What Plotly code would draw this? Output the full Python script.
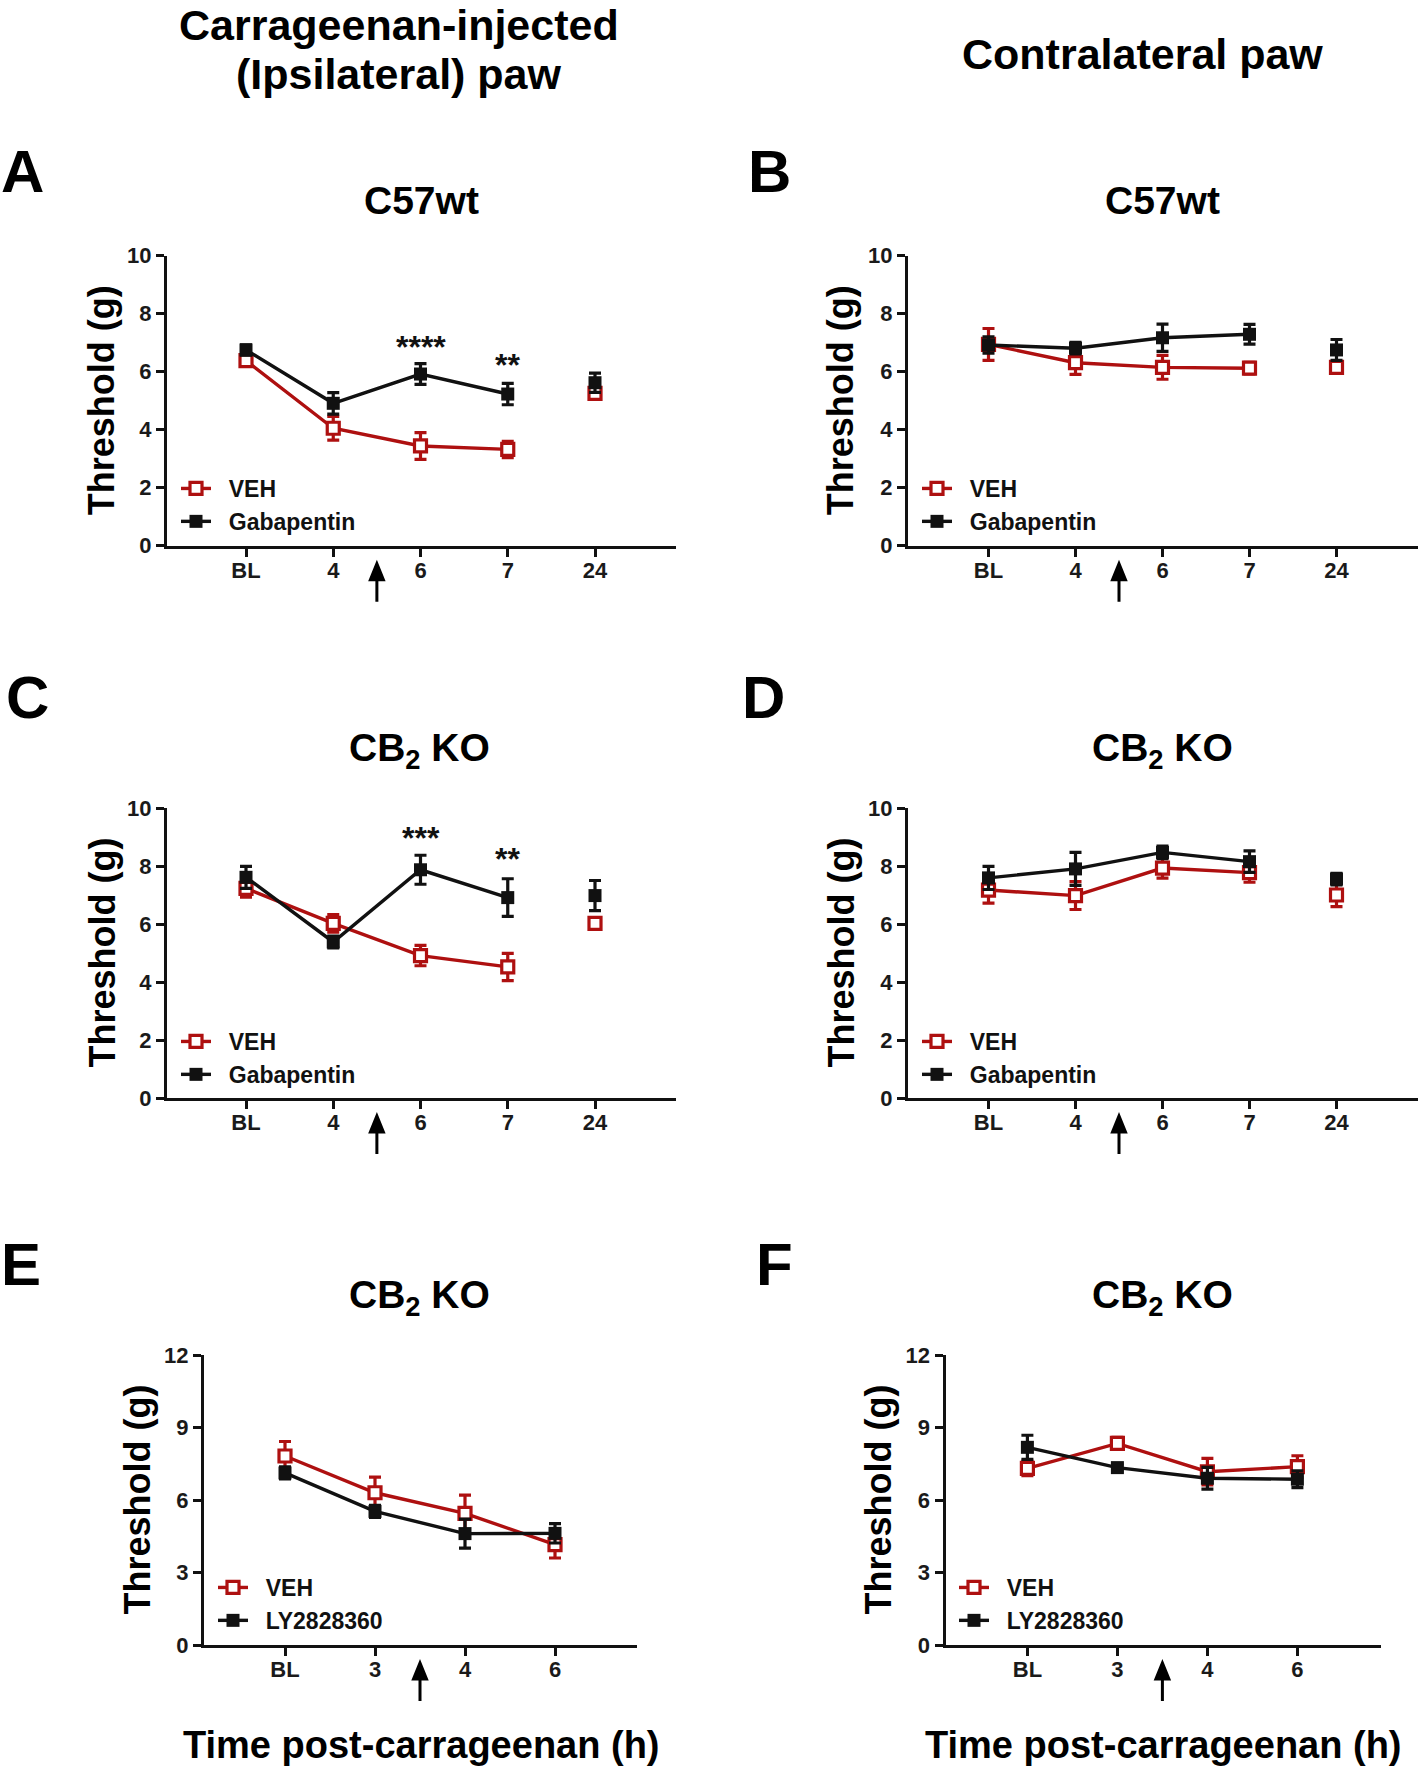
import plotly.graph_objects as go

W, H = 1418, 1767

# ---------------- data ----------------
gaba_times = ["BL", "4", "6", "7", "24"]
ly_times = ["BL", "3", "4", "6"]

# Panel A: C57wt, ipsilateral
A_veh = [6.38, 4.05, 3.44, 3.32, 5.25]
A_veh_err = [0.15, 0.41, 0.46, 0.28, 0.20]
A_gaba = [6.75, 4.91, 5.92, 5.23, 5.62]
A_gaba_err = [0.18, 0.37, 0.36, 0.37, 0.33]

# Panel B: C57wt, contralateral
B_veh = [6.94, 6.31, 6.15, 6.12, 6.15]
B_veh_err = [0.55, 0.40, 0.41, 0.20, 0.20]
B_gaba = [6.92, 6.81, 7.17, 7.29, 6.75]
B_gaba_err = [0.28, 0.20, 0.47, 0.34, 0.36]

# Panel C: CB2 KO, ipsilateral
C_veh = [7.23, 6.02, 4.91, 4.52, 6.02]
C_veh_err = [0.30, 0.30, 0.35, 0.47, 0.20]
C_gaba = [7.61, 5.38, 7.87, 6.91, 6.98]
C_gaba_err = [0.38, 0.20, 0.50, 0.65, 0.52]

# Panel D: CB2 KO, contralateral
D_veh = [7.17, 6.98, 7.93, 7.77, 7.00]
D_veh_err = [0.45, 0.48, 0.35, 0.33, 0.40]
D_gaba = [7.59, 7.90, 8.47, 8.15, 7.55]
D_gaba_err = [0.40, 0.57, 0.22, 0.37, 0.20]

# Panel E: CB2 KO, ipsilateral, LY2828360
E_veh = [7.82, 6.30, 5.45, 4.15]
E_veh_err = [0.60, 0.65, 0.75, 0.55]
E_ly = [7.12, 5.53, 4.61, 4.62]
E_ly_err = [0.25, 0.25, 0.60, 0.40]

# Panel F: CB2 KO, contralateral, LY2828360
F_veh = [7.31, 8.34, 7.17, 7.38]
F_veh_err = [0.30, 0.25, 0.55, 0.45]
F_ly = [8.18, 7.34, 6.90, 6.86]
F_ly_err = [0.50, 0.15, 0.45, 0.35]

A_stars = ["****", "**"]
A_star_pos = [2, 3]
A_star_y = [7.09, 6.48]
C_stars = ["***", "**"]
C_star_pos = [2, 3]
C_star_y = [9.20, 8.47]

ylabel = "Threshold (g)"
xlabel = "Time post-carrageenan (h)"
header_left = ["Carrageenan-injected", "(Ipsilateral) paw"]
header_right = "Contralateral paw"

# ---------------- styling ----------------
RED = "#AE1010"
BLACK = "#111111"
FONT = "Liberation Sans, Arial, Helvetica, sans-serif"
NBSP = "\u00a0\u00a0"


def fx(p):
    return min(max(p / W, 0.0), 1.0)


def fy(p):
    return min(max(1 - p / H, 0.0), 1.0)


panels = [
    dict(letter="A", title="C57wt", times=gaba_times, veh=A_veh, veh_err=A_veh_err,
         drug=A_gaba, drug_err=A_gaba_err, drug_name="Gabapentin", n_conn=4,
         x0=167, x1=676, tick0=246, dtick=87.25, ytop=255.7, ybot=545.7,
         ymax=10, ydt=2, letter_xy=(22, 171), title_xy=(421, 201),
         ytitle_x=103, leg_xy=(176, 467), stars=(A_stars, A_star_pos, A_star_y)),
    dict(letter="B", title="C57wt", times=gaba_times, veh=B_veh, veh_err=B_veh_err,
         drug=B_gaba, drug_err=B_gaba_err, drug_name="Gabapentin", n_conn=4,
         x0=908, x1=1418, tick0=988.5, dtick=87.0, ytop=255.7, ybot=545.7,
         ymax=10, ydt=2, letter_xy=(769, 171), title_xy=(1162, 201),
         ytitle_x=842, leg_xy=(917, 467), stars=None),
    dict(letter="C", title="CB<sub>2</sub> KO", times=gaba_times, veh=C_veh, veh_err=C_veh_err,
         drug=C_gaba, drug_err=C_gaba_err, drug_name="Gabapentin", n_conn=4,
         x0=167, x1=676, tick0=246, dtick=87.25, ytop=808, ybot=1098,
         ymax=10, ydt=2, letter_xy=(27, 698), title_xy=(419, 750),
         ytitle_x=103, leg_xy=(176, 1020), stars=(C_stars, C_star_pos, C_star_y)),
    dict(letter="D", title="CB<sub>2</sub> KO", times=gaba_times, veh=D_veh, veh_err=D_veh_err,
         drug=D_gaba, drug_err=D_gaba_err, drug_name="Gabapentin", n_conn=4,
         x0=908, x1=1418, tick0=988.5, dtick=87.0, ytop=808, ybot=1098,
         ymax=10, ydt=2, letter_xy=(763, 698), title_xy=(1162, 750),
         ytitle_x=842, leg_xy=(917, 1020), stars=None),
    dict(letter="E", title="CB<sub>2</sub> KO", times=ly_times, veh=E_veh, veh_err=E_veh_err,
         drug=E_ly, drug_err=E_ly_err, drug_name="LY2828360", n_conn=4,
         x0=204, x1=637, tick0=285, dtick=90.0, ytop=1355, ybot=1645,
         ymax=12, ydt=3, letter_xy=(21, 1264), title_xy=(419, 1297),
         ytitle_x=138, leg_xy=(213, 1566), stars=None),
    dict(letter="F", title="CB<sub>2</sub> KO", times=ly_times, veh=F_veh, veh_err=F_veh_err,
         drug=F_ly, drug_err=F_ly_err, drug_name="LY2828360", n_conn=4,
         x0=945.5, x1=1381.4, tick0=1027.4, dtick=90.0, ytop=1355, ybot=1645,
         ymax=12, ydt=3, letter_xy=(774, 1264), title_xy=(1162, 1297),
         ytitle_x=879, leg_xy=(954, 1566), stars=None),
]

fig = go.Figure()
annotations = []
shapes = []
layout_updates = {}

for i, p in enumerate(panels, start=1):
    xa = "x" if i == 1 else f"x{i}"
    ya = "y" if i == 1 else f"y{i}"
    xkey = "xaxis" if i == 1 else f"xaxis{i}"
    ykey = "yaxis" if i == 1 else f"yaxis{i}"
    lkey = "legend" if i == 1 else f"legend{i}"
    n = len(p["times"])
    idx = list(range(n))
    nc = p["n_conn"]

    series = [
        ("VEH", p["veh"], p["veh_err"], RED, "white", 3.2, 12),
        (p["drug_name"], p["drug"], p["drug_err"], BLACK, BLACK, 0, 13),
    ]
    for name, vals, errs, col, fill, lw, ms in series:
        mk = dict(symbol="square", size=ms, color=fill, line=dict(color=col, width=lw))
        fig.add_trace(go.Scatter(
            x=idx[:nc], y=vals[:nc], xaxis=xa, yaxis=ya, mode="lines+markers",
            name=NBSP + name, legend=lkey, showlegend=True,
            line=dict(color=col, width=3.4), marker=mk, cliponaxis=False,
            error_y=dict(type="data", array=errs[:nc], color=col, thickness=3.2, width=6),
        ))
        if n > nc:
            fig.add_trace(go.Scatter(
                x=idx[nc:], y=vals[nc:], xaxis=xa, yaxis=ya, mode="markers",
                name=name, legend=lkey, showlegend=False, marker=mk, cliponaxis=False,
                error_y=dict(type="data", array=errs[nc:], color=col, thickness=3.2, width=6),
            ))

    # axes
    xr0 = (p["x0"] - p["tick0"]) / p["dtick"]
    xr1 = (p["x1"] - p["tick0"]) / p["dtick"]
    tickfont = dict(family=FONT, size=22, color="#1a1a1a", weight="bold")
    layout_updates[xkey] = dict(
        domain=[fx(p["x0"]), fx(p["x1"])], anchor=ya, range=[xr0, xr1],
        tickvals=idx, ticktext=p["times"], showgrid=False, zeroline=False,
        showline=True, linecolor=BLACK, linewidth=3, ticks="outside", ticklen=8,
        tickwidth=3, tickcolor=BLACK, tickfont=tickfont, fixedrange=True,
        automargin=False, ticklabelstandoff=-5,
    )
    yt = list(range(0, p["ymax"] + 1, p["ydt"]))
    layout_updates[ykey] = dict(
        domain=[fy(p["ybot"]), fy(p["ytop"])], anchor=xa, range=[0, p["ymax"]],
        tickvals=yt, showgrid=False, zeroline=False,
        showline=True, linecolor=BLACK, linewidth=3, ticks="outside", ticklen=8,
        tickwidth=3, tickcolor=BLACK, tickfont=tickfont, fixedrange=True,
        automargin=False,
    )
    layout_updates[lkey] = dict(
        x=fx(p["leg_xy"][0]), y=fy(p["leg_xy"][1]), xanchor="left", yanchor="top",
        bgcolor="rgba(0,0,0,0)", borderwidth=0, itemwidth=30,
        font=dict(family=FONT, size=23, color="#111111", weight="bold"),
        tracegroupgap=0,
    )

    # panel letter
    annotations.append(dict(
        text=p["letter"], x=fx(p["letter_xy"][0]), y=fy(p["letter_xy"][1]),
        xref="paper", yref="paper", showarrow=False, xanchor="center", yanchor="middle",
        font=dict(family=FONT, size=60, color="black", weight="bold"),
    ))
    # panel title
    annotations.append(dict(
        text=p["title"], x=fx(p["title_xy"][0]), y=fy(p["title_xy"][1]),
        xref="paper", yref="paper", showarrow=False, xanchor="center", yanchor="middle",
        font=dict(family=FONT, size=39, color="black", weight="bold"),
    ))
    # y axis title
    annotations.append(dict(
        text=ylabel, x=fx(p["ytitle_x"] - 1.5), y=fy((p["ytop"] + p["ybot"]) / 2),
        xref="paper", yref="paper", showarrow=False, xanchor="center", yanchor="middle",
        textangle=-90, font=dict(family=FONT, size=36, color="black", weight="bold"),
    ))
    # injection arrow (pixel-sized shape anchored between the 2nd and 3rd time point)
    shapes.append(dict(
        type="path", xref=xa, yref="paper", xsizemode="pixel", ysizemode="pixel",
        xanchor=1.5, yanchor=fy(p["ybot"] + 56),
        path="M 0 0 L 0 26 M -6.5 22 L 6.5 22 L 0 38 Z",
        line=dict(color="black", width=3), fillcolor="black",
    ))
    # significance stars
    if p["stars"] is not None:
        txts, pos, ys = p["stars"]
        for t, xx, yy in zip(txts, pos, ys):
            annotations.append(dict(
                text=t, x=xx, y=yy, xref=xa, yref=ya, showarrow=False,
                xanchor="center", yanchor="middle", yshift=-7,
                font=dict(family=FONT, size=32, color="#111111", weight="bold"),
            ))

# column headers
for line_txt, cy in zip(header_left, (25, 74)):
    annotations.append(dict(
        text=line_txt, x=fx(399), y=fy(cy),
        xref="paper", yref="paper", showarrow=False, xanchor="center", yanchor="middle",
        font=dict(family=FONT, size=43, color="black", weight="bold"),
    ))
annotations.append(dict(
    text=header_right, x=fx(1142), y=fy(53.6),
    xref="paper", yref="paper", showarrow=False, xanchor="center", yanchor="middle",
    font=dict(family=FONT, size=43, color="black", weight="bold"),
))
# bottom x titles
for cx in (421, 1163):
    annotations.append(dict(
        text=xlabel, x=fx(cx), y=fy(1745),
        xref="paper", yref="paper", showarrow=False, xanchor="center", yanchor="middle",
        font=dict(family=FONT, size=38, color="black", weight="bold"),
    ))

fig.update_layout(
    width=W, height=H, margin=dict(l=0, r=0, t=0, b=0, pad=0, autoexpand=False),
    paper_bgcolor="white", plot_bgcolor="white",
    annotations=annotations, shapes=shapes, **layout_updates,
)

fig.write_html(
    "out.html",
    config={"displayModeBar": False},
    post_script="document.body.style.margin='0';document.body.style.overflow='hidden';",
)
